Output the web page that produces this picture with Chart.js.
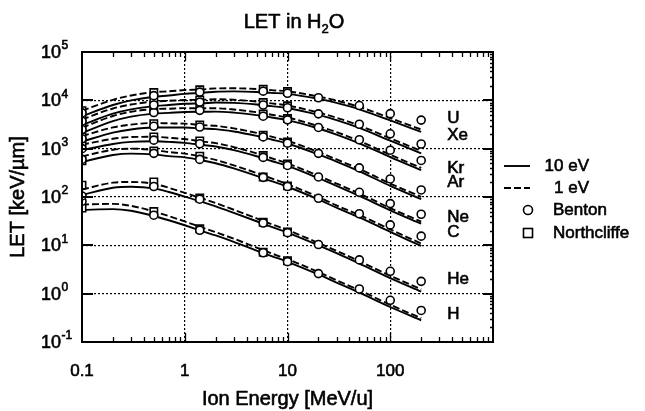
<!DOCTYPE html>
<html>
<head>
<meta charset="utf-8">
<title>LET in H2O</title>
<script src="https://cdn.jsdelivr.net/npm/chart.js@4.4.0/dist/chart.umd.min.js"></script>
<style>
  html, body { margin: 0; padding: 0; background: #fff; }
  #wrap { width: 645px; height: 411px; }
</style>
</head>
<body>
<div id="wrap"><canvas id="chart" width="645" height="411"></canvas></div>
<script>
// Ion energies (MeV/u) at which the calculated LET curves are tabulated
const energies = [0.1, 0.2, 0.3, 0.5, 0.7, 1, 1.5, 2, 3, 5, 7, 10, 20, 30, 50, 100, 200];

// Calculated LET (keV/µm), 10 eV cutoff (solid)
const let10_U  = [4700, 8000, 10000, 11900, 12600, 13600, 14300, 15100, 15300, 14900, 14250, 13600, 10700, 8830, 6520, 3840, 2220];
const let10_Xe = [3100, 5300, 6500, 7600, 8000, 8480, 8700, 9000, 8850, 8190, 7580, 6940, 4990, 3900, 2690, 1460, 800];
const let10_Kr = [2100, 3700, 4600, 5300, 5500, 5740, 5800, 5850, 5570, 4940, 4420, 3900, 2610, 1960, 1290, 670, 360];
const let10_Ar = [1400, 2150, 2500, 2740, 2740, 2740, 2600, 2540, 2270, 1840, 1550, 1280, 760, 540, 340, 170, 90];
const let10_Ne = [930, 1250, 1380, 1420, 1380, 1320, 1190, 1110, 930, 696, 556, 439, 245, 170, 105, 53, 28];
const let10_C  = [530, 740, 790, 760, 700, 660, 570, 500, 390, 273, 212, 163, 89, 60, 38, 19, 9.7];
const let10_He = [110, 155, 163, 151, 127, 102, 78, 64, 47, 31.5, 24, 18.3, 10, 6.9, 4.2, 2.1, 1.1];
const let10_H  = [54, 56, 52, 40.5, 33, 26, 19.5, 16, 11.8, 7.8, 6.0, 4.57, 2.5, 1.7, 1.05, 0.53, 0.28];

// Calculated LET (keV/µm), 1 eV cutoff (dashed)
const let1_U  = [6110, 10240, 12600, 14760, 15370, 16320, 16870, 17670, 17750, 17140, 16250, 15370, 11980, 9890, 7300, 4300, 2490];
const let1_Xe = [4030, 6780, 8190, 9420, 9760, 10180, 10270, 10530, 10270, 9420, 8640, 7840, 5590, 4370, 3010, 1640, 900];
const let1_Kr = [2730, 4740, 5800, 6570, 6710, 6890, 6840, 6840, 6460, 5680, 5040, 4410, 2920, 2200, 1440, 750, 400];
const let1_Ar = [1820, 2750, 3150, 3400, 3340, 3290, 3070, 2970, 2630, 2120, 1770, 1450, 850, 600, 380, 190, 101];
const let1_Ne = [1210, 1600, 1740, 1760, 1680, 1580, 1400, 1300, 1080, 800, 634, 496, 274, 190, 118, 59, 31];
const let1_C  = [690, 950, 1000, 940, 850, 790, 670, 585, 452, 314, 242, 184, 100, 67, 42.5, 21.3, 10.9];
const let1_He = [143, 198, 205, 187, 155, 122, 92, 75, 54.5, 36.2, 27.4, 20.7, 11.2, 7.7, 4.7, 2.35, 1.23];
const let1_H  = [70, 72, 65.5, 50.2, 40.3, 31.2, 23, 18.7, 13.7, 9.0, 6.8, 5.16, 2.8, 1.9, 1.18, 0.59, 0.31];

// Benton tabulation
const bentonEnergies = [0.1, 0.5, 1.4, 5.8, 10, 20, 50, 100, 200];
const benton_U  = [5500, 12500, 14800, 15500, 14000, 11300, 7800, 5300, 3900];
const benton_Xe = [3700, 8000, 9200, 8000, 7000, 5250, 3200, 2030, 1250];
const benton_Kr = [2500, 5600, 6200, 4700, 3950, 2750, 1530, 930, 570];
const benton_Ar = [1600, 2900, 2800, 1750, 1300, 800, 400, 236, 140];
const benton_Ne = [1000, 1500, 1260, 660, 450, 260, 125, 73, 44];
const benton_C  = [600, 800, 600, 255, 165, 94, 45, 26.5, 15.5];
const benton_He = [105, 165, 90, 29, 18.3, 10.4, 5.0, 2.9, 1.8];
const benton_H  = [82, 42, 20.5, 7.0, 4.6, 2.6, 1.25, 0.73, 0.45];

// Northcliffe tabulation
const northEnergies = [0.1, 0.5, 1.4, 5.8, 10];
const north_U  = [6100, 14500, 16500, 17000, 15200];
const north_Xe = [4100, 9300, 10200, 9000, 7700];
const north_Kr = [2800, 6500, 6800, 5200, 4200];
const north_Ar = [1750, 3300, 3100, 1900, 1380];
const north_Ne = [1150, 1750, 1450, 720, 480];
const north_C  = [560, 900, 700, 260, 170];
const north_He = [176, 205, 95, 30, 19];
const north_H  = [59, 50, 22, 7.2, 4.8];

// Ion names, in drawing order
const ionNames = ['U', 'Xe', 'Kr', 'Ar', 'Ne', 'C', 'He', 'H'];

// Axis decades and their labels
const xTickValues = [0.1, 1, 10, 100];
const xTickLabels = ['0.1', '1', '10', '100'];
const yTickExponents = [-1, 0, 1, 2, 3, 4, 5];

const FONT = '"Liberation Sans", Arial, Helvetica, sans-serif';

const curves10 = [let10_U, let10_Xe, let10_Kr, let10_Ar, let10_Ne, let10_C, let10_He, let10_H];
const curves1  = [let1_U, let1_Xe, let1_Kr, let1_Ar, let1_Ne, let1_C, let1_He, let1_H];
const bentons  = [benton_U, benton_Xe, benton_Kr, benton_Ar, benton_Ne, benton_C, benton_He, benton_H];
const norths   = [north_U, north_Xe, north_Kr, north_Ar, north_Ne, north_C, north_He, north_H];

const pts = (xs, ys) => xs.map((x, i) => ({ x: x, y: ys[i] }));

const datasets = [];
ionNames.forEach((name, k) => {
  datasets.push({
    label: name + ' Benton', type: 'line', showLine: false, order: 0,
    data: pts(bentonEnergies, bentons[k]),
    pointStyle: 'circle', pointRadius: 4, pointBorderWidth: 1.6,
    pointBackgroundColor: '#fff', pointBorderColor: '#000'
  });
  datasets.push({
    label: name + ' Northcliffe', type: 'line', showLine: false, order: 0,
    data: pts(northEnergies, norths[k]),
    pointStyle: 'rect', pointRadius: 5.2, pointBorderWidth: 1.6,
    pointBackgroundColor: '#fff', pointBorderColor: '#000'
  });
});
ionNames.forEach((name, k) => {
  datasets.push({
    label: name + ' 10 eV', type: 'line', order: 1,
    data: pts(energies, curves10[k]),
    borderColor: '#000', borderWidth: 1.9, pointRadius: 0,
    cubicInterpolationMode: 'monotone', fill: false
  });
  datasets.push({
    label: name + ' 1 eV', type: 'line', order: 1,
    data: pts(energies, curves1[k]),
    borderColor: '#000', borderWidth: 1.9, borderDash: [7, 3], pointRadius: 0,
    cubicInterpolationMode: 'monotone', fill: false
  });
});

// Text with a thin outline so the strokes read as heavy as the printed labels
function heavyText(ctx, s, x, y) {
  ctx.fillText(s, x, y);
  ctx.strokeText(s, x, y);
}

// Title with subscript
const titlePlugin = {
  id: 'titleText',
  afterDraw(chart) {
    const ctx = chart.ctx;
    ctx.save();
    ctx.fillStyle = '#000';
    ctx.strokeStyle = '#000';
    ctx.lineWidth = 0.6;
    ctx.textBaseline = 'alphabetic';
    const parts = [['LET in H', 20, 0], ['2', 13, 5], ['O', 20, 0]];
    let total = 0;
    parts.forEach(p => { ctx.font = p[1] + 'px ' + FONT; total += ctx.measureText(p[0]).width; });
    let x = 294 - total / 2;
    parts.forEach(p => {
      ctx.font = p[1] + 'px ' + FONT;
      heavyText(ctx, p[0], x, 28 + p[2]);
      x += ctx.measureText(p[0]).width;
    });
    ctx.restore();
  }
};

// Frame, tick marks, tick labels, ion names, axis titles and legend
const axesPlugin = {
  id: 'axesDeco',
  afterDraw(chart) {
    const ctx = chart.ctx;
    const a = chart.chartArea;
    const xs = chart.scales.x, ys = chart.scales.y;
    ctx.save();
    ctx.strokeStyle = '#000';
    ctx.fillStyle = '#000';
    ctx.lineWidth = 2;
    ctx.strokeRect(a.left, a.top, a.right - a.left, a.bottom - a.top);

    ctx.lineWidth = 1.3;
    ctx.beginPath();
    // x minor/major ticks on top and bottom edges
    for (let d = 0.1; d < 1000; d *= 10) {
      for (let m = 1; m <= 9; m++) {
        const v = d * m;
        if (v <= 0.1 + 1e-9) continue;
        const px = Math.round(xs.getPixelForValue(v)) + 0.5;
        const len = m === 1 ? 9 : 5;
        ctx.moveTo(px, a.bottom); ctx.lineTo(px, a.bottom - len);
        ctx.moveTo(px, a.top); ctx.lineTo(px, a.top + len);
      }
    }
    // y minor ticks on the right edge
    for (let d = 0.1; d < 1e5; d *= 10) {
      for (let m = 2; m <= 9; m++) {
        const py = Math.round(ys.getPixelForValue(d * m)) + 0.5;
        ctx.moveTo(a.right, py); ctx.lineTo(a.right - 3, py);
      }
    }
    ctx.stroke();
    // y major ticks, left and right
    ctx.lineWidth = 2;
    ctx.beginPath();
    for (let k = 0; k <= 4; k++) {
      const py = Math.round(ys.getPixelForValue(Math.pow(10, k)));
      ctx.moveTo(a.left, py); ctx.lineTo(a.left + 11, py);
      ctx.moveTo(a.right, py); ctx.lineTo(a.right - 10, py);
    }
    ctx.stroke();

    ctx.lineWidth = 0.6;
    // x tick labels
    ctx.font = '17px ' + FONT;
    ctx.textAlign = 'center';
    ctx.textBaseline = 'middle';
    xTickValues.forEach((v, i) => {
      heavyText(ctx, xTickLabels[i], xs.getPixelForValue(v), 371);
    });
    // y tick labels, 10 with exponent
    ctx.textAlign = 'left';
    yTickExponents.forEach(e => {
      const py = ys.getPixelForValue(Math.pow(10, e));
      ctx.font = '18px ' + FONT;
      ctx.textBaseline = 'middle';
      heavyText(ctx, '10', 41, py + 1);
      const w = ctx.measureText('10').width;
      ctx.font = '12px ' + FONT;
      heavyText(ctx, String(e), 41 + w + 0.5, py - 6);
    });

    // axis titles
    ctx.font = '20px ' + FONT;
    ctx.textAlign = 'center';
    ctx.textBaseline = 'middle';
    heavyText(ctx, 'Ion Energy [MeV/u]', (a.left + a.right) / 2, 399);
    ctx.save();
    ctx.translate(18, (a.top + a.bottom) / 2);
    ctx.rotate(-Math.PI / 2);
    heavyText(ctx, 'LET [keV/\u00b5m]', 0, 0);
    ctx.restore();

    // ion names next to the high-energy end of each curve set
    const nudge = { U: -2, Xe: -9, Kr: 8, Ar: -8, Ne: 3, C: -4, He: -2, H: 4 };
    ctx.font = '17px ' + FONT;
    ctx.textAlign = 'left';
    const lx = xs.getPixelForValue(200) + 26;
    ionNames.forEach((name, k) => {
      const b = bentons[k];
      const py = ys.getPixelForValue(b[b.length - 1]) + nudge[name];
      heavyText(ctx, name, lx, py);
    });

    // legend
    const rows = [166, 188, 210, 233];
    const x0 = a.right + 11, x1 = a.right + 37;
    ctx.lineWidth = 1.9;
    ctx.beginPath(); ctx.moveTo(x0, rows[0]); ctx.lineTo(x1, rows[0]); ctx.stroke();
    ctx.setLineDash([7, 3]);
    ctx.beginPath(); ctx.moveTo(x0, rows[1]); ctx.lineTo(x1, rows[1]); ctx.stroke();
    ctx.setLineDash([]);
    ctx.lineWidth = 1.6;
    const mx = a.right + 35;
    ctx.beginPath(); ctx.arc(mx, rows[2], 4.5, 0, Math.PI * 2); ctx.stroke();
    ctx.strokeRect(mx - 4.5, rows[3] - 4.5, 9, 9);
    ctx.lineWidth = 0.6;
    ctx.font = '17px ' + FONT;
    ctx.textAlign = 'right';
    heavyText(ctx, '10 eV', a.right + 96, rows[0]);
    heavyText(ctx, '1 eV', a.right + 96, rows[1]);
    ctx.textAlign = 'left';
    heavyText(ctx, 'Benton', a.right + 60, rows[2]);
    heavyText(ctx, 'Northcliffe', a.right + 60, rows[3]);
    ctx.restore();
  }
};

new Chart(document.getElementById('chart'), {
  type: 'line',
  data: { datasets: datasets },
  options: {
    responsive: false,
    animation: false,
    devicePixelRatio: 1,
    layout: { padding: { left: 82, right: 152, top: 52, bottom: 69 } },
    plugins: { legend: { display: false }, tooltip: { enabled: false }, title: { display: false } },
    scales: {
      x: {
        type: 'logarithmic', min: 0.1, max: 1000,
        afterBuildTicks: s => { s.ticks = [1, 10, 100].map(v => ({ value: v })); },
        afterFit: s => { s.height = 0; },
        ticks: { display: false },
        grid: { color: '#000', lineWidth: 1.2, drawTicks: false },
        border: { display: false, dash: [2, 2] }
      },
      y: {
        type: 'logarithmic', min: 0.1, max: 100000,
        afterBuildTicks: s => { s.ticks = [1, 10, 100, 1000, 10000].map(v => ({ value: v })); },
        afterFit: s => { s.width = 0; },
        ticks: { display: false },
        grid: { color: '#000', lineWidth: 1.2, drawTicks: false },
        border: { display: false, dash: [2, 2] }
      }
    }
  },
  plugins: [titlePlugin, axesPlugin]
});
</script>
</body>
</html>
